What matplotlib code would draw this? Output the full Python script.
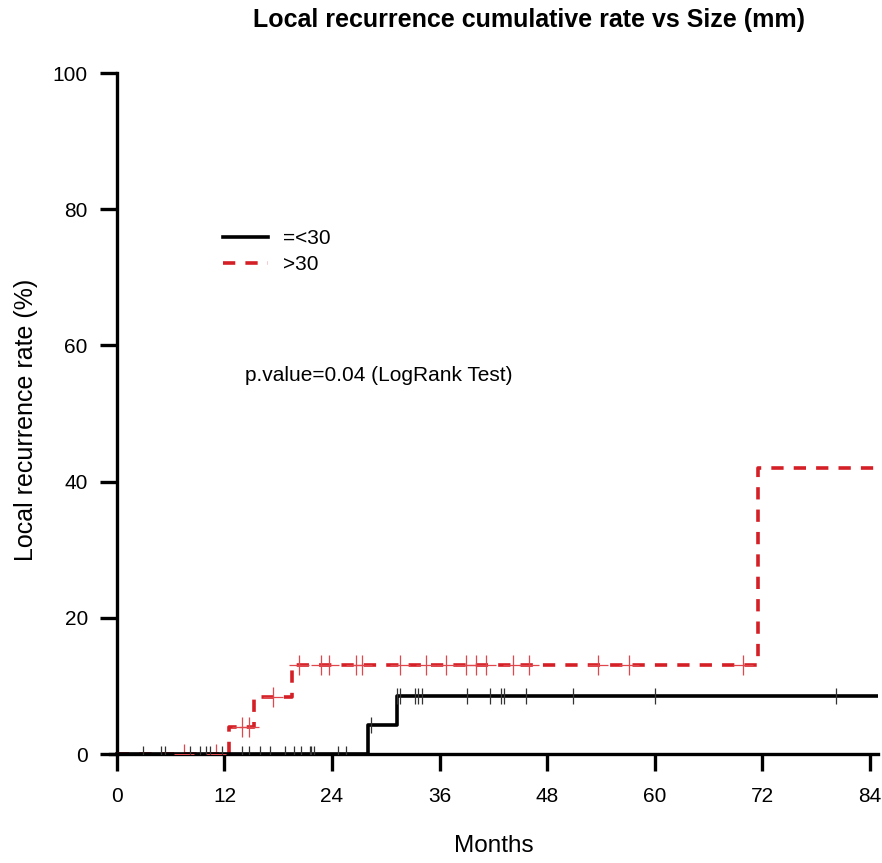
import numpy as np
import matplotlib
matplotlib.use('Agg')
import matplotlib.pyplot as plt
from matplotlib.lines import Line2D

plt.rcParams['font.family'] = ['Liberation Sans', 'DejaVu Sans']

# step curves (months, cumulative local recurrence %)
small_t = [0, 28.0, 31.3, 85]
small_y = [0, 4.2, 8.5, 8.5]
large_t = [0, 12.5, 15.3, 19.5, 71.5, 85]
large_y = [0, 4.0, 8.4, 13.0, 42.0, 42.0]

# censored times
small_cens = [2.9, 4.9, 5.4, 8.1, 9.3, 9.9, 10.4, 11.7, 14.0, 14.7, 16.0, 17.1,
              18.75, 19.8, 20.5, 21.5, 21.7, 22.0, 24.7, 25.6, 28.4,
              31.3, 31.6, 33.3, 33.6, 34.0, 39.1, 41.6, 42.9, 43.2, 45.6,
              50.9, 60.0, 80.3]
large_cens = [7.5, 11.0, 14.0, 14.7, 17.45, 20.3, 22.8, 23.7, 26.7, 27.3,
              31.6, 34.5, 36.7, 38.9, 40.1, 41.2, 44.2, 46.0, 53.7, 57.2, 69.9]

xticks = [0, 12, 24, 36, 48, 60, 72, 84]
yticks = [0, 20, 40, 60, 80, 100]

red = '#d41f26'

def step_at(t, ts, ys):
    i = np.searchsorted(ts, t, side='right') - 1
    return np.array(ys)[i]

fig = plt.figure(figsize=(8.82, 8.63), dpi=100)
W, H = 882, 863
ax = fig.add_axes([109.8 / W, 1 - 754 / H, (877.7 - 109.8) / W, (754 - 73) / H])

ax.step(large_t, large_y, where='post', color=red, lw=2.6, dashes=(3.4, 2.8), zorder=3)
ax.step(small_t, small_y, where='post', color='black', lw=2.6, zorder=4)

sc = np.array(small_cens)
lc = np.array(large_cens)
ax.plot(sc, step_at(sc, small_t, small_y), ls='none', marker='|', ms=11,
        mew=0.9, color='#333333', zorder=5)
ax.plot(lc, step_at(lc, large_t, large_y), ls='none', marker='+', ms=14,
        mew=0.9, color='#e0474d', zorder=3.5)

ax.set_xlim(-0.8, 84.9)
ax.set_ylim(0, 100)
ax.spines['top'].set_visible(False)
ax.spines['right'].set_visible(False)
ax.spines['left'].set_position(('data', 0))
ax.spines['left'].set_bounds(0, 100)
for s in ['left', 'bottom']:
    ax.spines[s].set_linewidth(2.4)
ax.set_xticks(xticks)
ax.set_yticks(yticks)
ax.tick_params(axis='both', length=12, width=2.4, labelsize=15)
ax.tick_params(axis='x', pad=12)
ax.tick_params(axis='y', pad=9)

ax.set_xlabel('Months', fontsize=17.5, labelpad=20.5)
ax.set_ylabel('Local recurrence rate (%)', fontsize=18)
ax.yaxis.set_label_coords(-0.0935, 0.49)

fig.text(529 / W, 1 - 20 / H, 'Local recurrence cumulative rate vs Size (mm)',
         ha='center', va='center', fontsize=18, fontweight='bold')

handles = [Line2D([], [], color='black', lw=2.6),
           Line2D([], [], color=red, lw=2.6, dashes=(3.4, 2.8))]
ax.legend(handles, ['=<30', '>30'], loc='upper left', frameon=False,
          bbox_to_anchor=(223 / W, 1 - 229 / H), bbox_transform=fig.transFigure,
          fontsize=15, handlelength=2.15, handletextpad=0.72, labelspacing=0.36,
          borderpad=0, borderaxespad=0)

fig.text(245 / W, 1 - 375 / H, 'p.value=0.04 (LogRank Test)', ha='left',
         va='center', fontsize=15)

fig.savefig('out.png', dpi=100)
